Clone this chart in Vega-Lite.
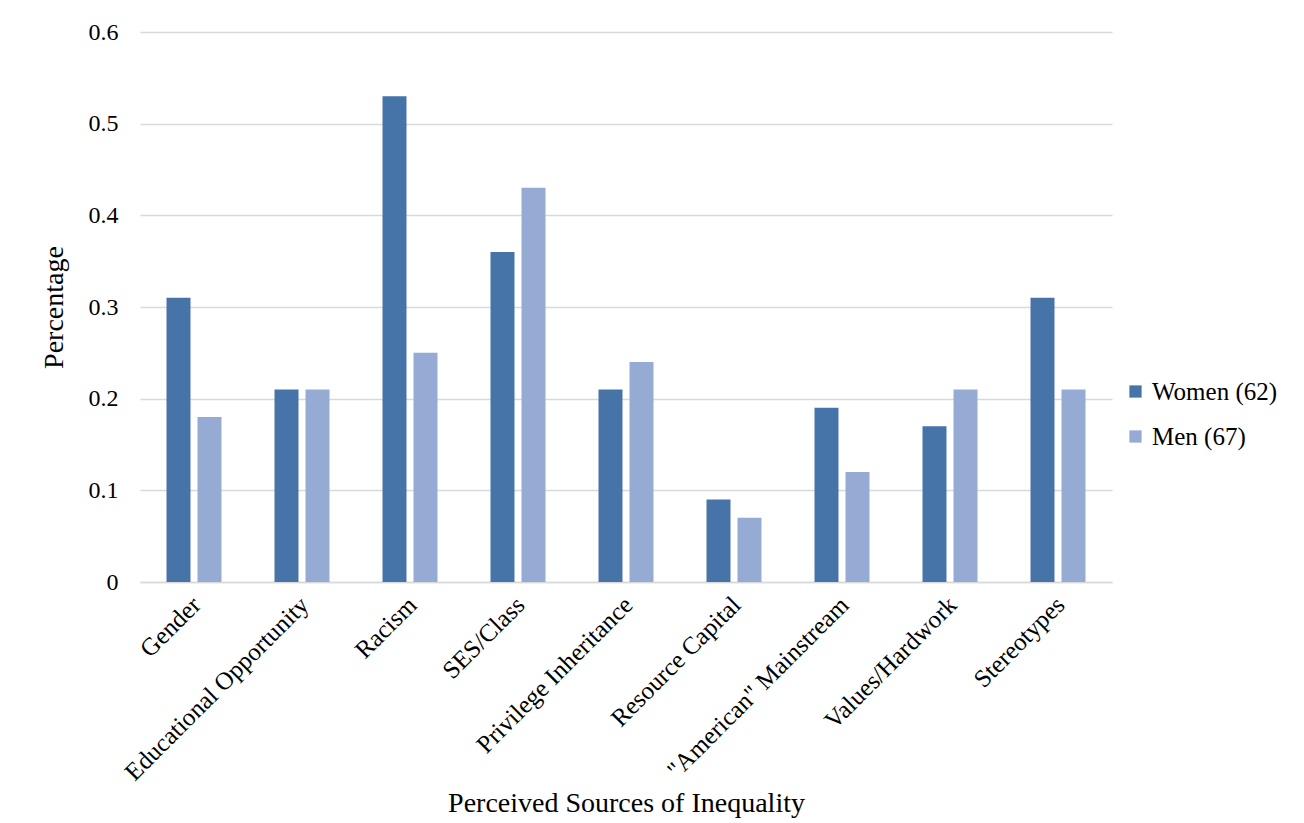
{
  "$schema": "https://vega.github.io/schema/vega-lite/v6.json",
  "width": 972,
  "height": 550,
  "autosize": {"type": "none"},
  "padding": {"left": 140, "top": 32, "right": 192, "bottom": 241},
  "background": "white",
  "data": {
    "values": [
      {"source": "Gender", "group": "Women (62)", "value": 0.31},
      {"source": "Gender", "group": "Men (67)", "value": 0.18},
      {"source": "Educational Opportunity", "group": "Women (62)", "value": 0.21},
      {"source": "Educational Opportunity", "group": "Men (67)", "value": 0.21},
      {"source": "Racism", "group": "Women (62)", "value": 0.53},
      {"source": "Racism", "group": "Men (67)", "value": 0.25},
      {"source": "SES/Class", "group": "Women (62)", "value": 0.36},
      {"source": "SES/Class", "group": "Men (67)", "value": 0.43},
      {"source": "Privilege Inheritance", "group": "Women (62)", "value": 0.21},
      {"source": "Privilege Inheritance", "group": "Men (67)", "value": 0.24},
      {"source": "Resource Capital", "group": "Women (62)", "value": 0.09},
      {"source": "Resource Capital", "group": "Men (67)", "value": 0.07},
      {"source": "\"American\" Mainstream", "group": "Women (62)", "value": 0.19},
      {"source": "\"American\" Mainstream", "group": "Men (67)", "value": 0.12},
      {"source": "Values/Hardwork", "group": "Women (62)", "value": 0.17},
      {"source": "Values/Hardwork", "group": "Men (67)", "value": 0.21},
      {"source": "Stereotypes", "group": "Women (62)", "value": 0.31},
      {"source": "Stereotypes", "group": "Men (67)", "value": 0.21}
    ]
  },
  "mark": {"type": "bar"},
  "encoding": {
    "x": {
      "field": "source",
      "type": "nominal",
      "sort": null,
      "scale": {"paddingInner": 0, "paddingOuter": 0},
      "axis": {
        "title": "Perceived Sources of Inequality",
        "titleFontSize": 28,
        "titleFont": "Liberation Serif",
        "titleFontWeight": "normal",
        "titleColor": "#000000",
        "titlePadding": 7,
        "labelAngle": -45,
        "labelAlign": "right",
        "labelBaseline": "top",
        "labelFontSize": 25,
        "labelFont": "Liberation Serif",
        "labelColor": "#000000",
        "labelPadding": 10,
        "labelOffset": -6,
        "labelLimit": 0,
        "labelOverlap": false,
        "ticks": false,
        "domainColor": "#d9d9d9",
        "domainWidth": 1.5,
        "grid": false
      }
    },
    "xOffset": {
      "field": "group",
      "type": "nominal",
      "sort": ["Women (62)", "Men (67)"],
      "scale": {"paddingInner": 0.226, "paddingOuter": 0.855}
    },
    "y": {
      "field": "value",
      "type": "quantitative",
      "scale": {"domain": [0, 0.6]},
      "axis": {
        "title": "Percentage",
        "titleFontSize": 28,
        "titleFont": "Liberation Serif",
        "titleFontWeight": "normal",
        "titleColor": "#000000",
        "titlePadding": 20,
        "values": [0, 0.1, 0.2, 0.3, 0.4, 0.5, 0.6],
        "format": ".1~f",
        "labelFontSize": 24,
        "labelFont": "Liberation Serif",
        "labelColor": "#000000",
        "labelPadding": 22,
        "ticks": false,
        "domain": false,
        "gridColor": "#d9d9d9",
        "gridWidth": 1.5
      }
    },
    "color": {
      "field": "group",
      "type": "nominal",
      "sort": ["Women (62)", "Men (67)"],
      "scale": {"domain": ["Women (62)", "Men (67)"], "range": ["#4673a8", "#95abd4"]},
      "legend": {
        "title": null,
        "orient": "none",
        "legendX": 983,
        "legendY": 347,
        "symbolType": "square",
        "symbolSize": 150,
        "symbolStrokeWidth": 0,
        "labelFontSize": 25,
        "labelFont": "Liberation Serif",
        "labelColor": "#000000",
        "rowPadding": 19,
        "labelOffset": 4
      }
    }
  },
  "config": {"view": {"stroke": null}}
}
